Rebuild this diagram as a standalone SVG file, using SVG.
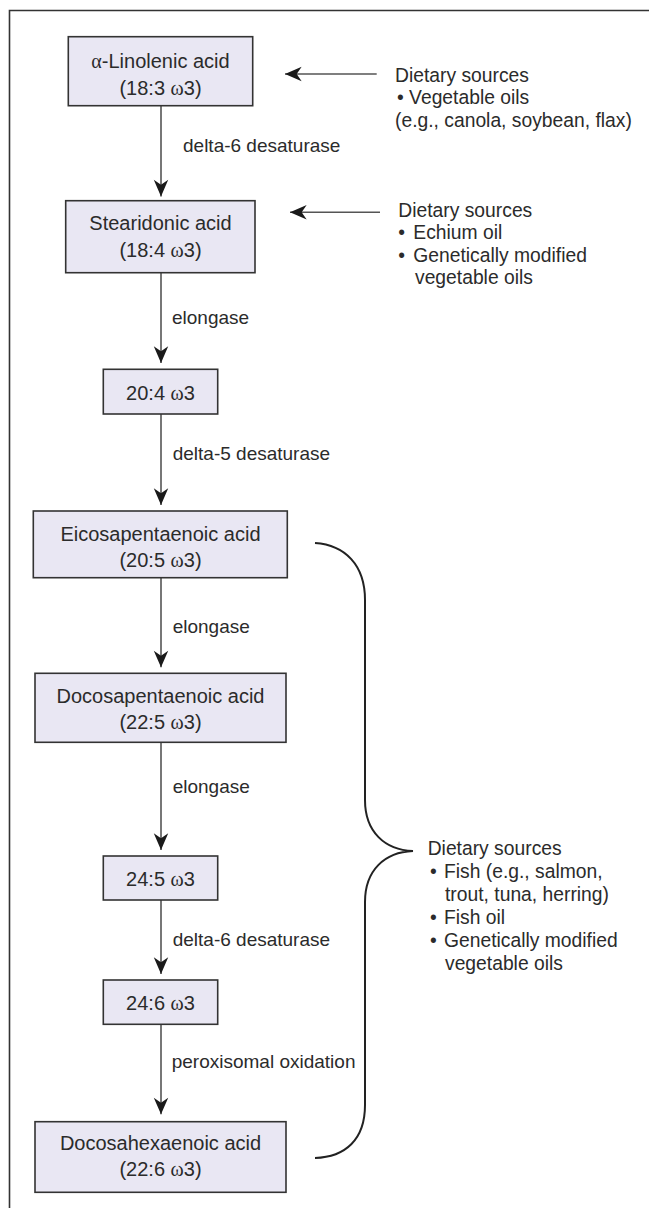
<svg xmlns="http://www.w3.org/2000/svg" width="649" height="1208" viewBox="0 0 649 1208">
<style>
.box{fill:#e9e7f3;stroke:#333;stroke-width:1.6}
.t{font-family:"Liberation Sans",Arial,sans-serif;font-size:20px;fill:#2b2b2b;text-anchor:middle}
.s{font-family:"Liberation Sans",Arial,sans-serif;font-size:19.3px;fill:#2b2b2b}
.l{font-family:"Liberation Sans",Arial,sans-serif;font-size:19px;fill:#2b2b2b}
.g{font-family:"Liberation Serif",serif}
.c{stroke:#555;stroke-width:1.6;fill:none}
.br{stroke:#222;stroke-width:2;fill:none}
</style>
<defs>
<marker id="ah" markerUnits="userSpaceOnUse" markerWidth="20" markerHeight="20" viewBox="-16 -8 18 16" refX="0" refY="0" orient="auto">
<path d="M0,0 L-15,-6.5 L-10.5,0 L-15,6.5 Z" fill="#1a1a1a"/>
</marker>
</defs>
<path d="M9.5,1208 V10.5 H649" fill="none" stroke="#333" stroke-width="1.6"/>
<g id="connectors">
<line class="c" x1="161" y1="105.7" x2="161" y2="196.5" marker-end="url(#ah)"/>
<line class="c" x1="161" y1="272.7" x2="161" y2="363" marker-end="url(#ah)"/>
<line class="c" x1="161" y1="414" x2="161" y2="505" marker-end="url(#ah)"/>
<line class="c" x1="161" y1="577.7" x2="161" y2="667.3" marker-end="url(#ah)"/>
<line class="c" x1="161" y1="742.3" x2="161" y2="850" marker-end="url(#ah)"/>
<line class="c" x1="161" y1="900" x2="161" y2="974" marker-end="url(#ah)"/>
<line class="c" x1="161" y1="1024.3" x2="161" y2="1114.3" marker-end="url(#ah)"/>
<line class="c" x1="376.7" y1="74" x2="285" y2="74" marker-end="url(#ah)"/>
<line class="c" x1="380" y1="212.3" x2="290" y2="212.3" marker-end="url(#ah)"/>
<path class="br" d="M315,543 C345,545 365,565 365,600 L365,800 C365,832 385,850 413,851 C385,852 365,870 365,902 L365,1105 C365,1140 345,1157 315,1158"/>
<text class="l" x="183" y="151.7">delta-6 desaturase</text>
<text class="l" x="172" y="324">elongase</text>
<text class="l" x="172.7" y="460">delta-5 desaturase</text>
<text class="l" x="172.7" y="633.3">elongase</text>
<text class="l" x="172.7" y="793.3">elongase</text>
<text class="l" x="172.7" y="946">delta-6 desaturase</text>
<text class="l" x="171.7" y="1068.3">peroxisomal oxidation</text>
</g>
<g id="n1">
<rect class="box" x="68.3" y="36.7" width="184.4" height="69"/>
<text class="t" x="160.5" y="67.7"><tspan class="g">α</tspan>-Linolenic acid</text>
<text class="t" x="160.5" y="94.5">(18:3 <tspan class="g">ω</tspan>3)</text>
</g>
<g id="n2">
<rect class="box" x="65.7" y="200.7" width="189.3" height="72"/>
<text class="t" x="160.5" y="230">Stearidonic acid</text>
<text class="t" x="160.5" y="256.5">(18:4 <tspan class="g">ω</tspan>3)</text>
</g>
<g id="n3">
<rect class="box" x="103.3" y="369.3" width="114.4" height="44.7"/>
<text class="t" x="160.5" y="399.5">20:4 <tspan class="g">ω</tspan>3</text>
</g>
<g id="n4">
<rect class="box" x="33.3" y="511" width="254" height="66.7"/>
<text class="t" x="160.5" y="540.7">Eicosapentaenoic acid</text>
<text class="t" x="160.5" y="567">(20:5 <tspan class="g">ω</tspan>3)</text>
</g>
<g id="n5">
<rect class="box" x="35" y="673.3" width="251" height="69"/>
<text class="t" x="160.5" y="702.7">Docosapentaenoic acid</text>
<text class="t" x="160.5" y="728.7">(22:5 <tspan class="g">ω</tspan>3)</text>
</g>
<g id="n6">
<rect class="box" x="103.3" y="856" width="114.4" height="44"/>
<text class="t" x="160.5" y="885.5">24:5 <tspan class="g">ω</tspan>3</text>
</g>
<g id="n7">
<rect class="box" x="103.3" y="980" width="114.4" height="44.3"/>
<text class="t" x="160.5" y="1010">24:6 <tspan class="g">ω</tspan>3</text>
</g>
<g id="n8">
<rect class="box" x="35" y="1121.7" width="251" height="70.6"/>
<text class="t" x="160.5" y="1150">Docosahexaenoic acid</text>
<text class="t" x="160.5" y="1176">(22:6 <tspan class="g">ω</tspan>3)</text>
</g>
<g id="src1">
<text class="s" x="395" y="81.7">Dietary sources</text>
<text class="s" x="397" y="104">• Vegetable oils</text>
<text class="s" x="395" y="126.5">(e.g., canola, soybean, flax)</text>
</g>
<g id="src2">
<text class="s" x="398.3" y="216.7">Dietary sources</text>
<text class="s" x="398.3" y="239.3">•</text>
<text class="s" x="413.3" y="239.3">Echium oil</text>
<text class="s" x="398.3" y="261.7">•</text>
<text class="s" x="413.3" y="261.7">Genetically modified</text>
<text class="s" x="415" y="284">vegetable oils</text>
</g>
<g id="src3">
<text class="s" x="427.7" y="855">Dietary sources</text>
<text class="s" x="430" y="878.3">•</text>
<text class="s" x="444" y="878.3">Fish (e.g., salmon,</text>
<text class="s" x="445" y="901.3">trout, tuna, herring)</text>
<text class="s" x="430" y="924">•</text>
<text class="s" x="444" y="924">Fish oil</text>
<text class="s" x="430" y="946.7">•</text>
<text class="s" x="444" y="946.7">Genetically modified</text>
<text class="s" x="445" y="969.5">vegetable oils</text>
</g>
</svg>
